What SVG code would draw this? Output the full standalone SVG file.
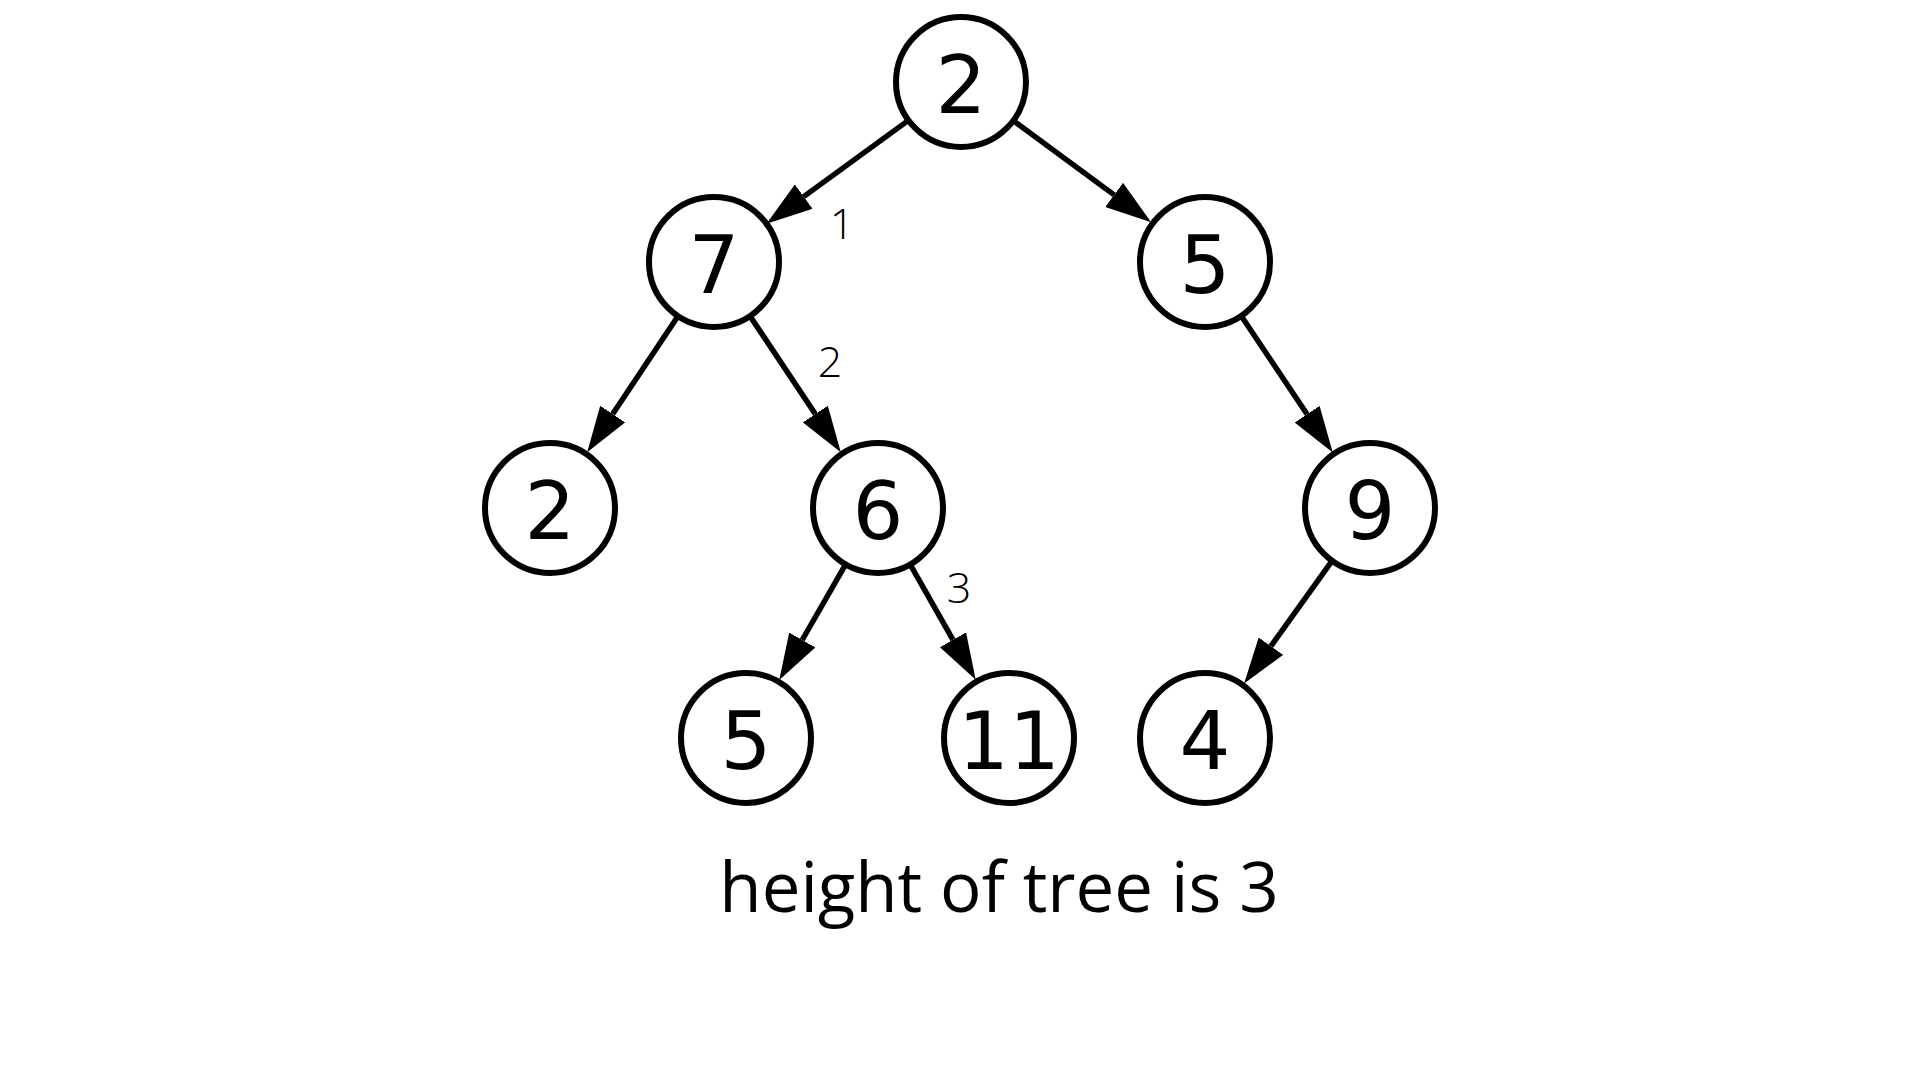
<svg xmlns="http://www.w3.org/2000/svg" width="1920" height="1080" viewBox="0 0 1920 1080">
  <style>
    .node circle { fill: #ffffff; stroke: #000000; stroke-width: 6; }
    .node text { font-family: "DejaVu Sans", sans-serif; font-size: 80px; fill: #000000; text-anchor: middle; }
    .edge { stroke: #000000; stroke-width: 5.5; fill: none; marker-end: url(#arrow); }
    .lvl { font-family: "Open Sans", sans-serif; font-weight: 300; font-size: 43px; fill: #000000; text-anchor: middle; }
    .caption { font-family: "Open Sans", sans-serif; font-size: 69px; fill: #000000; text-anchor: middle; }
  </style>
  <defs>
    <marker id="arrow" markerUnits="userSpaceOnUse" viewBox="0 0 46 30" markerWidth="46" markerHeight="30" refX="0" refY="15" orient="auto">
      <path d="M0,0 L46,15 L0,30 Z" fill="#000000"/>
    </marker>
  </defs>
  <rect width="1920" height="1080" fill="#ffffff"/>

  <!-- parent-to-child edges, ending at the arrowhead base -->
  <g id="edges">
    <line class="edge" x1="907.7" y1="120.9" x2="803.7" y2="196.6"/>
    <line class="edge" x1="1014.1" y1="121.2" x2="1114.1" y2="194.9"/>
    <line class="edge" x1="677.4" y1="316.9" x2="612.7" y2="414.0"/>
    <line class="edge" x1="750.6" y1="316.9" x2="815.3" y2="414.0"/>
    <line class="edge" x1="1241.8" y1="316.8" x2="1307.1" y2="414.2"/>
    <line class="edge" x1="845.2" y1="565.2" x2="802.2" y2="640.0"/>
    <line class="edge" x1="910.7" y1="565.3" x2="953.0" y2="639.8"/>
    <line class="edge" x1="1331.5" y1="561.6" x2="1270.9" y2="646.2"/>
  </g>

  <!-- level markers along the deepest path -->
  <g id="levels">
    <text class="lvl" x="842" y="239">1</text>
    <text class="lvl" x="830" y="377">2</text>
    <text class="lvl" x="959" y="603">3</text>
  </g>

  <g id="n-root" class="node"><circle cx="961" cy="82" r="65"/><text x="961" y="113">2</text></g>
  <g id="n-7" class="node"><circle cx="714" cy="262" r="65"/><text x="714" y="293">7</text></g>
  <g id="n-5a" class="node"><circle cx="1205" cy="262" r="65"/><text x="1205" y="293">5</text></g>
  <g id="n-2" class="node"><circle cx="550" cy="508" r="65"/><text x="550" y="539">2</text></g>
  <g id="n-6" class="node"><circle cx="878" cy="508" r="65"/><text x="878" y="539">6</text></g>
  <g id="n-9" class="node"><circle cx="1370" cy="508" r="65"/><text x="1370" y="539">9</text></g>
  <g id="n-5b" class="node"><circle cx="746" cy="738" r="65"/><text x="746" y="769">5</text></g>
  <g id="n-11" class="node"><circle cx="1009" cy="738" r="65"/><text x="1009" y="769">11</text></g>
  <g id="n-4" class="node"><circle cx="1205" cy="738" r="65"/><text x="1205" y="769">4</text></g>

  <text id="caption" class="caption" x="999" y="912">height of tree is 3</text>
</svg>
